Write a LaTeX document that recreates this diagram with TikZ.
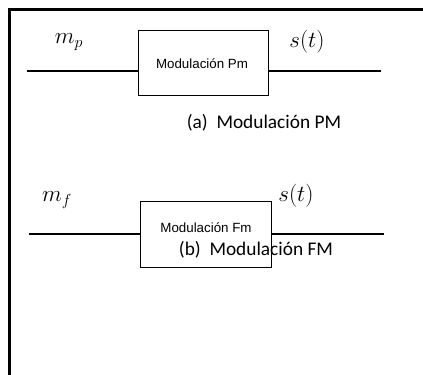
\documentclass[tikz,border=0pt]{standalone}
\usepackage{fontspec}
\setmainfont{Carlito}
\newfontfamily\arialfont{Liberation Sans}
\usetikzlibrary{positioning}

\begin{document}
\begin{tikzpicture}[
    x=0.75pt, y=-0.75pt,
    block/.style={draw, line width=0.6pt, rectangle, minimum width=98pt, minimum height=49pt},
    blocktext/.style={font=\arialfont\fontsize{10}{12}\selectfont},
    signal/.style={font=\fontsize{17}{20}\selectfont},
    caption/.style={font=\fontsize{14.5}{18}\selectfont},
    wire/.style={line width=1.5pt}
]
    \useasboundingbox (0,0) rectangle (423,374);
    % Frame
    \draw[line width=1.6pt] (9.5,380) -- (9.5,9.5) -- (430,9.5);

    % (a) PM
    \node[block] (pmbox) at (203.5,63) {};
    \node[blocktext] (pmtext) at (202,64) {Modulación Pm};
    \coordinate (pmin) at (27,71);
    \coordinate (pmout) at (381,71);
    \draw[wire] (pmin) -- (pmin -| pmbox.west);
    \draw[wire] (pmbox.east |- pmout) -- (pmout);
    \node[signal] (mp) at (69,42) {$m_p$};
    \node[signal] (st1) at (307,42) {$s(t)$};
    \node[caption] (capa) at (264,123) {(a)\hspace{0.45em}Modulación PM};

    % (b) FM
    \node[block] (fmbox) at (206,234.5) {};
    \node[blocktext] (fmtext) at (206,228) {Modulación Fm};
    \coordinate (fmin) at (29,234);
    \coordinate (fmout) at (384,234);
    \draw[wire] (fmin) -- (fmin -| fmbox.west);
    \draw[wire] (fmbox.east |- fmout) -- (fmout);
    \node[signal] (mf) at (57,200) {$m_f$};
    \node[signal] (st2) at (296,196) {$s(t)$};
    \node[caption] (capb) at (256,250) {(b)\hspace{0.45em}Modulación FM};
\end{tikzpicture}
\end{document}
